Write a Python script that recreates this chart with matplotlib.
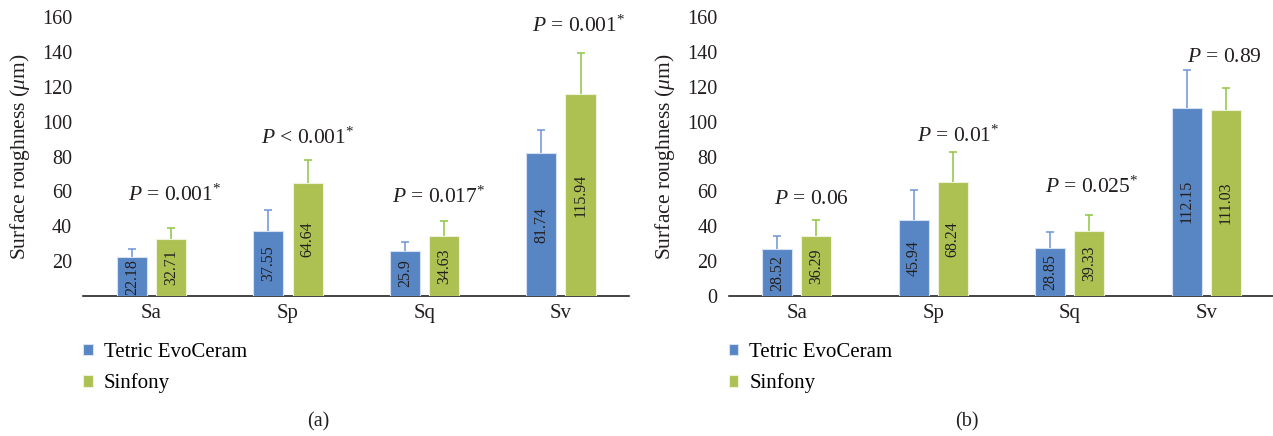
import matplotlib
matplotlib.use("Agg")
from matplotlib import pyplot as plt
import numpy as np

plt.rcParams['font.family'] = ['Liberation Serif', 'DejaVu Serif']
plt.rcParams['mathtext.fontset'] = 'custom'
plt.rcParams['mathtext.rm'] = 'Liberation Serif'
plt.rcParams['mathtext.it'] = 'Liberation Serif:italic'

categories = ['Sa', 'Sp', 'Sq', 'Sv']
series_names = ['Tetric EvoCeram', 'Sinfony']

# panel (a)
a_tetric = [22.18, 37.55, 25.9, 81.74]
a_sinfony = [32.71, 64.64, 34.63, 115.94]
a_tetric_err = [4.8, 11.8, 4.9, 13.3]
a_sinfony_err = [6.3, 13.3, 8.6, 23.2]
a_tetric_lbl = ['22.18', '37.55', '25.9', '81.74']
a_sinfony_lbl = ['32.71', '64.64', '34.63', '115.94']
a_pvals = ['= 0.001*', '< 0.001*', '= 0.017*', '= 0.001*']

# panel (b)
b_tetric = [26.9, 43.8, 27.3, 108.0]
b_sinfony = [34.4, 65.4, 37.3, 106.8]
b_tetric_err = [7.6, 16.8, 9.6, 21.6]
b_sinfony_err = [9.4, 17.2, 9.3, 12.3]
b_tetric_lbl = ['28.52', '45.94', '28.85', '112.15']
b_sinfony_lbl = ['36.29', '68.24', '39.33', '111.03']
b_pvals = ['= 0.06', '= 0.01*', '= 0.025*', '= 0.89']

BLUE = '#5886c5'
GREEN = '#adc153'
BLUE_ERR = '#6e93d6'
GREEN_ERR = '#8fc541'
TXT = '#231f20'


def upper_err(ax, x, y, err, color):
    eb = ax.errorbar(x, y, yerr=[np.zeros(len(y)), err], fmt='none', ecolor=color,
                     elinewidth=1.1, capsize=2.8, capthick=1.1, zorder=2)
    # hide the cap sitting on the bar top
    eb[1][0].set_visible(False)


def panel(ax, t, s, t_err, s_err, t_lbl, s_lbl, pvals, p_pos, show_zero):
    x = np.arange(len(categories))
    w = 0.22
    off = 0.143
    bt = ax.bar(x - off, t, w, color=BLUE, edgecolor='#d5e0f2', linewidth=0.8,
                zorder=3, label=series_names[0])
    bs = ax.bar(x + off, s, w, color=GREEN, edgecolor='#eef2d8', linewidth=0.8,
                zorder=3, label=series_names[1])
    upper_err(ax, x - off, t, t_err, BLUE_ERR)
    upper_err(ax, x + off, s, s_err, GREEN_ERR)

    for i in range(len(categories)):
        ax.text(x[i] - off, t[i] / 2, t_lbl[i], rotation=90, ha='center', va='center',
                fontsize=11.5, color=TXT, zorder=4)
        ax.text(x[i] + off, s[i] / 2, s_lbl[i], rotation=90, ha='center', va='center',
                fontsize=11.5, color=TXT, zorder=4)
        px, py = p_pos[i]
        ptxt = '$P$ ' + pvals[i].replace('*', '$^{*}$')
        ax.text(px, py, ptxt, ha='center', va='center', fontsize=15.5, color=TXT)

    ax.set_xlim(-0.5, 3.5)
    ax.set_ylim(0, 160)
    ax.set_xticks(x)
    ax.set_xticklabels(categories, fontsize=15, color=TXT)
    if show_zero:
        ax.set_yticks(np.arange(0, 161, 20))
    else:
        ax.set_yticks(np.arange(20, 161, 20))
    ax.tick_params(axis='y', length=0, pad=8, labelsize=14.5, labelcolor=TXT)
    ax.tick_params(axis='x', length=0, pad=6)
    for sp in ['top', 'right', 'left']:
        ax.spines[sp].set_visible(False)
    ax.spines['bottom'].set_linewidth(1.1)
    ax.spines['bottom'].set_color('#111111')
    ax.set_ylabel('Surface roughness ($\\mu$m)', fontsize=15.5, color=TXT, labelpad=7)
    ax.legend(handles=[bt, bs], loc='upper left', bbox_to_anchor=(0.0, -0.168),
              frameon=False, fontsize=15, handlelength=0.45, handleheight=0.45,
              handletextpad=0.55, labelspacing=0.56, borderpad=0, borderaxespad=0)


fig = plt.figure(figsize=(12.73, 4.36), dpi=100)
ax1 = fig.add_axes([0.0654, 0.321, 0.4289, 0.640])
ax2 = fig.add_axes([0.5723, 0.321, 0.4289, 0.640])

panel(ax1, a_tetric, a_sinfony, a_tetric_err, a_sinfony_err, a_tetric_lbl, a_sinfony_lbl,
      a_pvals, [(0.167, 57.9), (1.146, 90.4), (2.106, 56.6), (3.13, 154.8)], False)
panel(ax2, b_tetric, b_sinfony, b_tetric_err, b_sinfony_err, b_tetric_lbl, b_sinfony_lbl,
      b_pvals, [(0.109, 55.5), (1.18, 91.9), (2.16, 62.5), (3.13, 136.9)], True)

fig.text(318 / 1273, 1 - 422 / 436, '(a)', ha='center', va='center', fontsize=14.5, color=TXT)
fig.text(967 / 1273, 1 - 422 / 436, '(b)', ha='center', va='center', fontsize=14.5, color=TXT)

fig.savefig('out.png', dpi=100)
